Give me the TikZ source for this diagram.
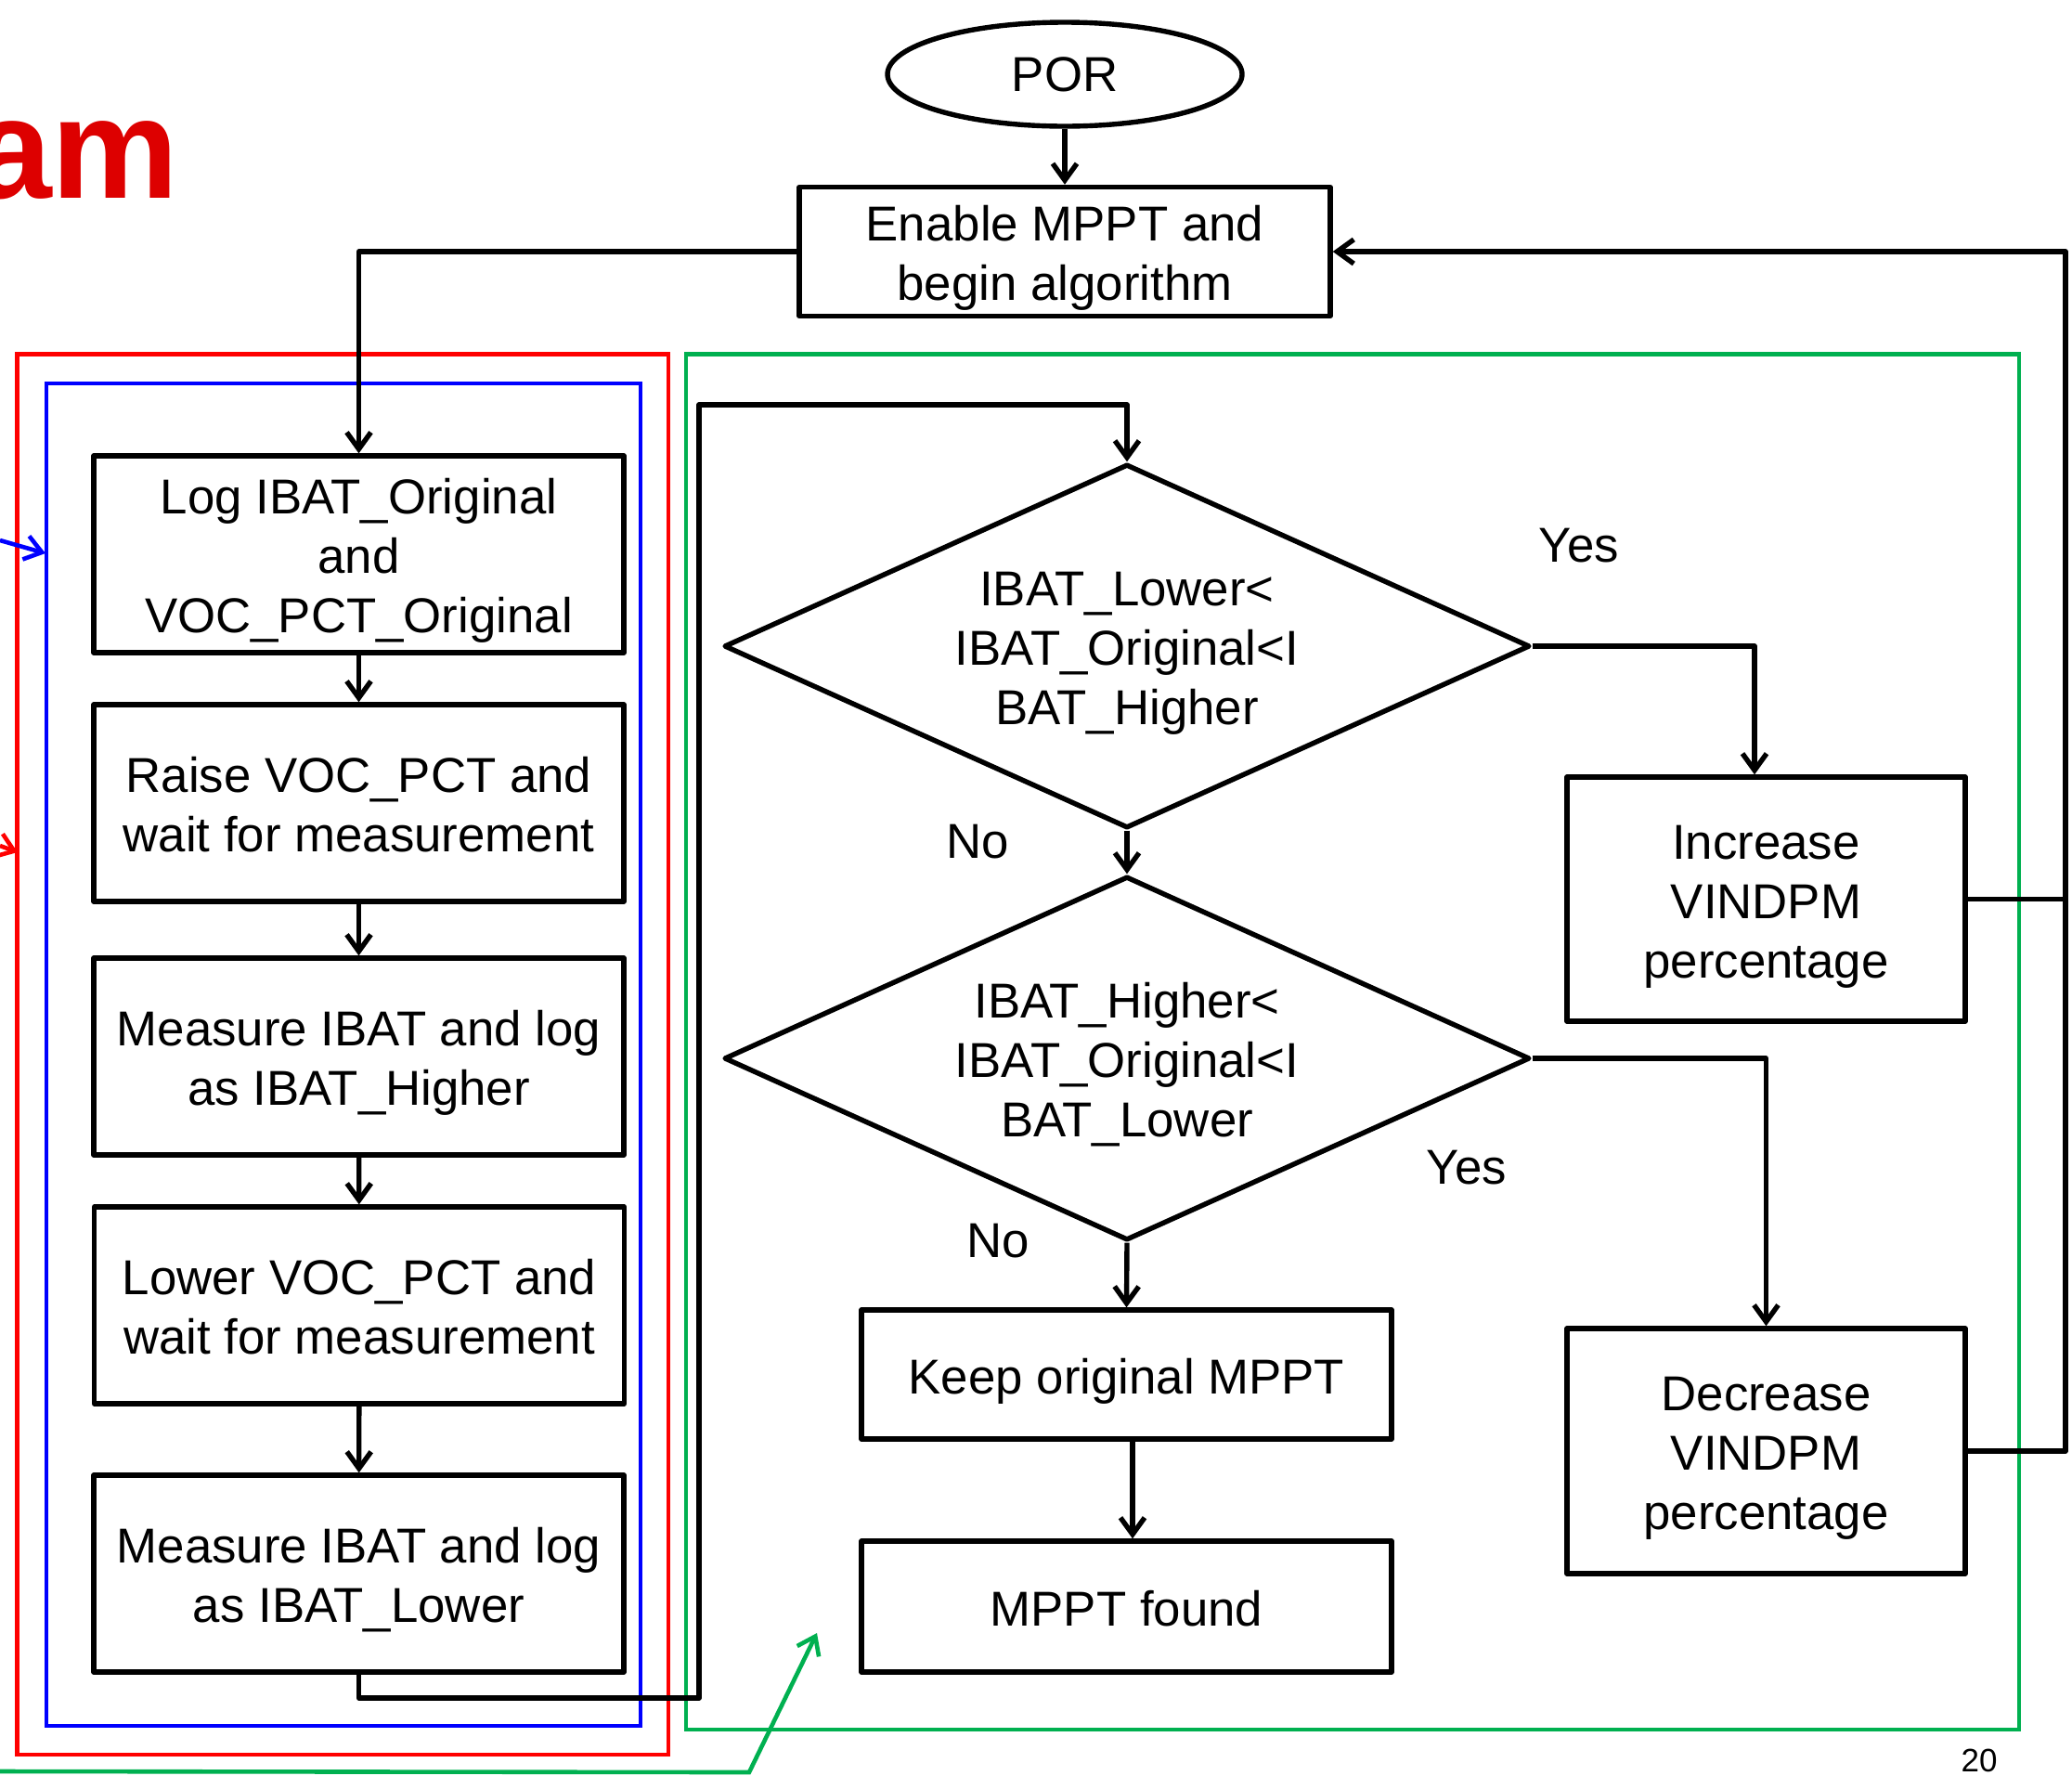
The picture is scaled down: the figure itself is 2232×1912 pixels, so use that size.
\documentclass[tikz,border=0pt]{standalone}
\usepackage{fontspec}
\setmainfont{Liberation Sans}
\usetikzlibrary{shapes.geometric,arrows.meta}
\newcommand\mainfs{\fontsize{26.4}{32}\selectfont}
\newcommand\tx[1]{\raisebox{-4pt}[\height][\depth]{\begin{tabular}{@{}c@{}}#1\end{tabular}}}
\definecolor{titlered}{RGB}{221,0,0}
\definecolor{frgreen}{RGB}{0,176,80}
\begin{document}
\begin{tikzpicture}[x=0.5pt,y=-0.5pt,
  blk/.style={line width=2.7pt,line join=round},
  arr/.style={blk,-{Straight Barb[length=9pt,width=13pt,line width=2.7pt]}},
  carr/.style={line width=2.3pt,-{Straight Barb[length=9pt,width=13pt,line width=2.3pt]}},
  box/.style={draw,blk,rectangle,inner sep=0pt,font=\mainfs},
  dia/.style={draw,blk,diamond,aspect=2.21,inner sep=0pt,font=\mainfs,
    minimum width=434pt,minimum height=196pt},
  lbl/.style={font=\mainfs,inner sep=0pt}]
\useasboundingbox (0,0) rectangle (2232,1912);
% title fragment
\node[anchor=base east,inner sep=0pt,text=titlered,font=\fontsize{77}{80}\selectfont\bfseries] (title) at (193,213) {am};
% frames
\draw[red,line width=2.3pt] (18.5,381.5) rectangle (720,1890);
\draw[blue,line width=2.3pt] (50,413) rectangle (690,1859);
\draw[frgreen,line width=2.3pt] (739,381.5) rectangle (2175,1863);
% nodes
\node[ellipse,draw,blk,minimum width=191pt,minimum height=56pt,font=\mainfs] (por) at (1147,80) {POR};
\node[box,minimum width=286pt,minimum height=69.5pt] (enable) at (1147,271) {\tx{Enable MPPT and\\begin algorithm}};
\node[box,minimum width=285.5pt,minimum height=106pt] (log) at (386.5,597) {\tx{Log IBAT\_Original\\and\\VOC\_PCT\_Original}};
\node[box,minimum width=285.5pt,minimum height=106pt] (raise) at (386.5,865) {\tx{Raise VOC\_PCT and\\wait for measurement}};
\node[box,minimum width=285.5pt,minimum height=106pt] (mh) at (386.5,1138) {\tx{Measure IBAT and log\\as IBAT\_Higher}};
\node[box,minimum width=285.5pt,minimum height=106pt] (lower) at (387,1406) {\tx{Lower VOC\_PCT and\\wait for measurement}};
\node[box,minimum width=285.5pt,minimum height=106pt] (ml) at (386.5,1695) {\tx{Measure IBAT and log\\as IBAT\_Lower}};
\node[dia] (d1) at (1214,696) {\tx{IBAT\_Lower<\\IBAT\_Original<I\\BAT\_Higher}};
\node[dia] (d2) at (1214,1140) {\tx{IBAT\_Higher<\\IBAT\_Original<I\\BAT\_Lower}};
\node[box,minimum width=214.5pt,minimum height=131.5pt] (inc) at (1902.5,968.5) {\tx{Increase\\VINDPM\\percentage}};
\node[box,minimum width=214.5pt,minimum height=132pt] (dec) at (1902.5,1563) {\tx{Decrease\\VINDPM\\percentage}};
\node[box,minimum width=285.5pt,minimum height=69.5pt] (keep) at (1213.5,1480.5) {\tx{Keep original MPPT}};
\node[box,minimum width=285.5pt,minimum height=70.5pt] (found) at (1213.5,1730.5) {\tx{MPPT found}};
% labels
\node[lbl] (yes1) at (1701,588) {Yes};
\node[lbl] (no1) at (1053,907) {No};
\node[lbl] (yes2) at (1580,1258) {Yes};
\node[lbl] (no2) at (1075,1337) {No};
\node[inner sep=0pt,anchor=base,font=\fontsize{17.5}{20}\selectfont] (pg) at (2132,1908) {20};
% coordinates
\coordinate (c1) at (753,1829);
\coordinate (c2) at (753,436);
\coordinate (r1) at (2225,1563);
\coordinate (r2) at (2225,968.5);
\coordinate (ic) at (1890,696);
\coordinate (k1) at (1220,1480.5);
% connectors
\draw[arr] (por) -- (enable);
\draw[arr] (enable.west) -| (log.north);
\draw[arr] (log) -- (raise);
\draw[arr] (raise) -- (mh);
\draw[arr] (mh) -- (lower);
\draw[arr] (lower) -- (ml);
\draw[arr] (ml.south) |- (c1) -- (c2) -| (d1.north);
\draw[arr] (d1.south) -- (d2.north);
\draw[arr] (d1.east) -- (ic) -- (ic |- inc.north);
\draw[arr] (d2.east) -| (dec.north);
\draw[arr] (d2.south) -- (keep.north);
\draw[arr] (k1 |- keep.south) -- (k1 |- found.north);
\draw[blk] (inc.east) -- (r2);
\draw[arr] (dec.east) -- (r1) |- (enable.east);
% coloured pointers
\coordinate (b0) at (0,582);
\coordinate (b1) at (49,596);
\draw[carr,blue] (b0) -- (b1);
\coordinate (rr0) at (0,911);
\coordinate (rr1) at (19,918);
\draw[carr,red] (rr0) -- (rr1);
\coordinate (g0) at (0,1908);
\coordinate (g1) at (807,1909);
\coordinate (g2) at (880,1759);
\draw[carr,frgreen] (g0) -- (g1) -- (g2);
\end{tikzpicture}
\end{document}
